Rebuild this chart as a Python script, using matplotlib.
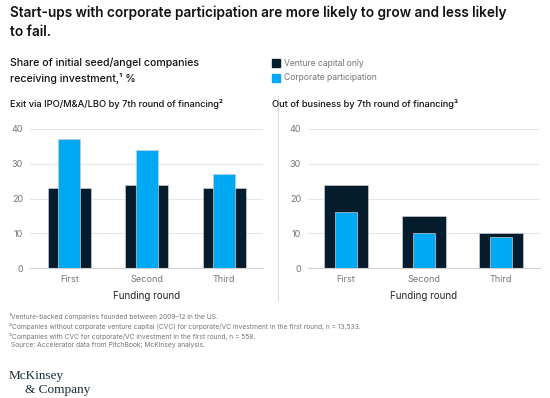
import numpy as np
import matplotlib.pyplot as plt
from matplotlib.patches import Rectangle
from matplotlib.lines import Line2D

rounds = ['First', 'Second', 'Third']
exit_vc = [23, 24, 23]
exit_corp = [37, 34, 27]
oob_vc = [24, 15, 10]
oob_corp = [16, 10, 9]

dark = '#051c2c'
light = '#00a9f4'
grey_txt = '#757575'
grid_col = '#e5e5e5'

plt.rcParams['font.family'] = ['Inter', 'DejaVu Sans']

fig = plt.figure(figsize=(5.5, 3.98), dpi=100)
W, H = 550, 398

def fx(px):
    return px / W

def fy(py):
    return 1 - py / H

# title block
fig.text(fx(10), fy(13), 'Start-ups with corporate participation are more likely to grow and less likely',
         fontsize=9.8, fontweight='semibold', va='center', color='#111111')
fig.text(fx(10), fy(32), 'to fail.', fontsize=9.8, fontweight='semibold', va='center', color='#111111')
fig.text(fx(10), fy(63), 'Share of initial seed/angel companies', fontsize=7.6, fontweight='medium',
         va='center', color='#111111')
fig.text(fx(10), fy(78), 'receiving investment,\u00b9 %', fontsize=7.6, fontweight='medium',
         va='center', color='#111111')

# legend
for yy, col, lab in [(63, dark, 'Venture capital only'), (78, light, 'Corporate participation')]:
    fig.patches.append(Rectangle((fx(272), fy(yy + 4)), fx(8), 8 / H, color=col,
                                 transform=fig.transFigure, figure=fig))
    fig.text(fx(284), fy(yy), lab, fontsize=6.2, va='center', color=grey_txt)

fig.text(fx(10), fy(104), 'Exit via IPO/M&A/LBO by 7th round of financing\u00b2', fontsize=6.7,
         fontweight='medium', va='center', color='#111111')
fig.text(fx(272), fy(104), 'Out of business by 7th round of financing\u00b3', fontsize=6.7,
         fontweight='medium', va='center', color='#111111')

# separator
fig.add_artist(Line2D([fx(278), fx(278)], [fy(96), fy(300)], color='#dddddd', lw=0.8,
                      transform=fig.transFigure))

def panel(left_px, right_px, xlim, vc, corp, wide_w, narrow_w):
    ax = fig.add_axes([fx(left_px), fy(268), fx(right_px - left_px), 139 / H])
    x = np.arange(len(rounds))
    ax.bar(x, vc, width=wide_w, color=dark, edgecolor='#c8ccd0', linewidth=0.5, zorder=2)
    ax.bar(x, corp, width=narrow_w, color=light, edgecolor='#c8ccd0', linewidth=0.5, zorder=3)
    ax.set_ylim(0, 40)
    ax.set_xlim(*xlim)
    ax.set_yticks([0, 10, 20, 30, 40])
    ax.yaxis.grid(True, color=grid_col, lw=0.8, zorder=0)
    ax.set_axisbelow(True)
    for s in ['top', 'right', 'left']:
        ax.spines[s].set_visible(False)
    ax.spines['bottom'].set_color('#d0d0d0')
    ax.spines['bottom'].set_linewidth(0.8)
    ax.set_xticks(x)
    ax.set_xticklabels(rounds)
    ax.tick_params(axis='both', length=0, labelsize=6.5, colors=grey_txt, pad=5)
    ax.set_xlabel('Funding round', fontsize=7, color='#222222', labelpad=5)
    return ax

panel(30, 263, (-0.51, 2.50), exit_vc, exit_corp, 0.555, 0.284)
panel(308, 540, (-0.49, 2.50), oob_vc, oob_corp, 0.566, 0.283)

notes = ['\u00b9Venture-backed companies founded between 2009\u201312 in the US.',
         '\u00b2Companies without corporate venture capital (CVC) for corporate/VC investment in the first round, n = 13,533.',
         '\u00b3Companies with CVC for corporate/VC investment in the first round, n = 558.',
         ' Source: Accelerator data from PitchBook; McKinsey analysis.']
for i, n in enumerate(notes):
    fig.text(fx(9), fy(317 + 9.5 * i), n, fontsize=4.8, va='center', color=grey_txt)

fig.text(fx(9), fy(376), 'McKinsey', fontsize=9.5, family='Liberation Serif', va='center', color='#1a2a3a')
fig.text(fx(25), fy(390), '& Company', fontsize=9.5, family='Liberation Serif', va='center', color='#1a2a3a')

fig.savefig('out.png', dpi=100, facecolor='white')
